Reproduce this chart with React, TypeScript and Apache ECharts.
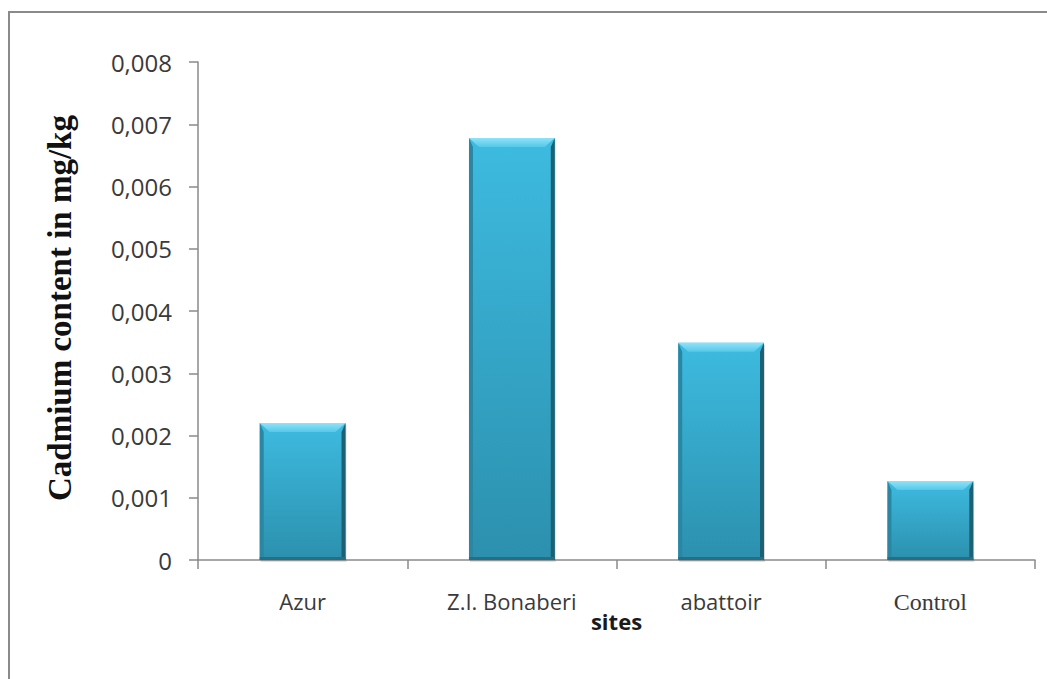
import React, { useEffect, useRef } from "react";
import * as echarts from "echarts";

const categories = ["Azur", "Z.I. Bonaberi", "abattoir", "Control"];
const cadmiumValues = [0.0022, 0.00678, 0.00349, 0.00127];
const yTickValues = [0, 0.001, 0.002, 0.003, 0.004, 0.005, 0.006, 0.007, 0.008];
const yTitle = "Cadmium content in mg/kg";
const xTitle = "sites";

const fmtTick = (v: number) => (v === 0 ? "0" : v.toFixed(3).replace(".", ","));

export default function App() {
  const ref = useRef<HTMLDivElement>(null);
  useEffect(() => {
    document.body.style.margin = "0";
    const chart = echarts.init(ref.current!, undefined, { renderer: "svg" });
    const data = categories.map((c, i) => [i, cadmiumValues[i]]);
    const option: any = {
      animation: false,
      backgroundColor: "#ffffff",
      grid: { left: 198, right: 12, top: 62, bottom: 119, containLabel: false },
      xAxis: {
        type: "category",
        data: categories,
        name: xTitle,
        nameLocation: "middle",
        nameGap: 50,
        nameMoveOverlap: false,
        nameTextStyle: { fontFamily: "Open Sans", fontWeight: "bold", fontSize: 22, color: "#1a1a1a" },
        axisLine: { lineStyle: { color: "#8a8a8a", width: 1.5 } },
        axisTick: { show: true, alignWithLabel: false, length: 9, lineStyle: { color: "#8a8a8a", width: 1.5 } },
        axisLabel: {
          margin: 30,
          fontFamily: "Open Sans",
          fontSize: 22,
          color: "#3a3a3a",
          formatter: (v: string) => (v === "Control" ? "{serif|" + v + "}" : v),
          rich: { serif: { fontFamily: "Liberation Serif", fontSize: 24, color: "#3a3a3a" } },
        },
      },
      yAxis: {
        type: "value",
        min: 0,
        max: 0.008,
        interval: 0.001,
        splitLine: { show: false },
        axisLine: { show: true, lineStyle: { color: "#8a8a8a", width: 1.5 } },
        axisTick: { show: true, length: 9, lineStyle: { color: "#8a8a8a", width: 1.5 } },
        axisLabel: {
          margin: 26,
          fontFamily: "Open Sans",
          fontSize: 24,
          color: "#3a3a3a",
          formatter: (v: number) => (yTickValues.some((t) => Math.abs(t - v) < 1e-9) ? fmtTick(v) : ""),
        },
      },
      graphic: [
        {
          type: "rect",
          z: -10,
          shape: { x: 9, y: 12, width: 1200, height: 800 },
          style: { fill: "none", stroke: "#8a8a8a", lineWidth: 2 },
        },
        {
          type: "text",
          x: 60,
          y: 308,
          rotation: Math.PI / 2,
          style: {
            text: yTitle,
            fontFamily: "Liberation Serif",
            fontWeight: "bold",
            fontSize: 33,
            fill: "#111111",
            textAlign: "center",
            textVerticalAlign: "middle",
          },
        },
      ],
      series: [
        {
          type: "custom",
          name: "Cadmium",
          data,
          encode: { x: 0, y: 1 },
          renderItem: (params: any, api: any) => {
            const idx = api.value(0);
            const v = api.value(1);
            const top = api.coord([idx, v]);
            const bot = api.coord([idx, 0]);
            const bw = api.size([1, 0])[0] * 0.41;
            const x0 = top[0] - bw / 2;
            const x1 = top[0] + bw / 2;
            const y0 = top[1];
            const y1 = bot[1];
            const b = 9;
            const s = 4;
            return {
              type: "group",
              children: [
                {
                  type: "rect",
                  shape: { x: x0 + 1, y: y0 + 2, width: bw, height: y1 - y0 },
                  style: { fill: "rgba(0,0,0,0.12)" },
                },
                {
                  type: "rect",
                  shape: { x: x0, y: y0, width: bw, height: y1 - y0 },
                  style: {
                    fill: new echarts.graphic.LinearGradient(0, 0, 0, 1, [
                      { offset: 0, color: "#3dbbe0" },
                      { offset: 1, color: "#2c90ae" },
                    ]),
                  },
                },
                {
                  type: "polygon",
                  shape: { points: [[x0, y0], [x0 + s, y0 + b], [x0 + s, y1], [x0, y1]] },
                  style: { fill: "#2a87a3" },
                },
                {
                  type: "polygon",
                  shape: { points: [[x1, y0], [x1 - s, y0 + b], [x1 - s, y1], [x1, y1]] },
                  style: { fill: "#1d5f73" },
                },
                {
                  type: "polygon",
                  shape: { points: [[x0, y0], [x1, y0], [x1 - s * 2.5, y0 + b], [x0 + s * 2.5, y0 + b]] },
                  style: {
                    fill: new echarts.graphic.LinearGradient(0, 0, 0, 1, [
                      { offset: 0, color: "#8fe3f8" },
                      { offset: 1, color: "#55c8ea" },
                    ]),
                  },
                },
                {
                  type: "rect",
                  shape: { x: x0, y: y1 - 3, width: bw, height: 3 },
                  style: { fill: "#236f86" },
                },
              ],
            };
          },
        },
      ],
    };
    chart.setOption(option);
    return () => chart.dispose();
  }, []);
  return <div ref={ref} style={{ width: 1047, height: 679 }} />;
}
